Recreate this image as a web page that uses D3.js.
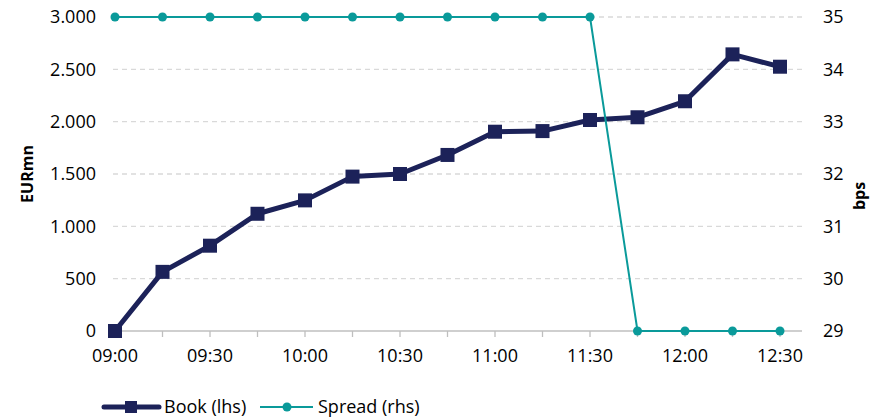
<!DOCTYPE html>
<html><head><meta charset="utf-8">
<script src="https://cdn.jsdelivr.net/npm/d3@7"></script>
<style>body{margin:0;background:#fff}svg{display:block;font-family:"Open Sans",sans-serif}</style>
</head><body><div id="c"></div>
<script>
const times = ["09:00","09:15","09:30","09:45","10:00","10:15","10:30","10:45","11:00","11:15","11:30","11:45","12:00","12:15","12:30"];
const book = [0,565,815,1120,1248,1475,1500,1682,1904,1910,2016,2042,2195,2643,2525];
const spread = [35,35,35,35,35,35,35,35,35,35,35,29,29,29,29];
const leftTicks = [0,500,1000,1500,2000,2500,3000];
const rightTicks = [29,30,31,32,33,34,35];
const xLabels = ["09:00","09:30","10:00","10:30","11:00","11:30","12:00","12:30"];

const W=871,H=419;
const svg=d3.select("#c").append("svg").attr("width",W).attr("height",H);
const x=d3.scalePoint().domain(times).range([115,780]);
const yL=d3.scaleLinear().domain([0,3000]).range([331,17]);
const yR=d3.scaleLinear().domain([29,35]).range([331,17]);
const plotL=113, plotR=802;
const navy="#1c2259", teal="#0a9a9a";
const fs=18;

// grid
svg.append("g").selectAll("line").data(leftTicks.filter(d=>d>0)).join("line")
 .attr("x1",plotL).attr("x2",plotR).attr("y1",d=>yL(d)).attr("y2",d=>yL(d))
 .attr("stroke","#d9d9d9").attr("stroke-width",1.3).attr("stroke-dasharray","5,4");
// baseline
svg.append("line").attr("x1",plotL).attr("x2",plotR).attr("y1",yL(0)).attr("y2",yL(0)).attr("stroke","#bfbfbf").attr("stroke-width",1.3);
// x ticks
svg.append("g").selectAll("line").data(times).join("line")
 .attr("x1",d=>x(d)).attr("x2",d=>x(d)).attr("y1",yL(0)).attr("y2",yL(0)+6).attr("stroke","#bfbfbf").attr("stroke-width",1.3);
svg.append("g").selectAll("text").data(xLabels).join("text")
 .attr("x",d=>x(d)).attr("y",yL(0)+31).attr("text-anchor","middle").attr("font-size",fs).attr("fill","#000").text(d=>d);
// left labels
svg.append("g").selectAll("text").data(leftTicks).join("text")
 .attr("x",96).attr("y",d=>yL(d)).attr("dy","0.35em").attr("text-anchor","end").attr("font-size",fs).attr("fill","#000")
 .text(d=>d3.format(",")(d).replace(/,/g,"."));
// right labels
svg.append("g").selectAll("text").data(rightTicks).join("text")
 .attr("x",823).attr("y",d=>yR(d)).attr("dy","0.35em").attr("text-anchor","start").attr("font-size",fs).attr("fill","#000").text(d=>d);
// axis titles
svg.append("text").attr("transform",`translate(33,${(17+331)/2}) rotate(-90)`).attr("text-anchor","middle")
 .attr("font-size",16).attr("font-weight","bold").text("EURmn");
svg.append("text").attr("transform",`translate(865,${(17+331)/2+22}) rotate(-90)`).attr("text-anchor","middle")
 .attr("font-size",16).attr("font-weight","bold").text("bps");

// book line
const lineB=d3.line().x((d,i)=>x(times[i])).y(d=>yL(d));
svg.append("path").datum(book).attr("d",lineB).attr("fill","none").attr("stroke",navy).attr("stroke-width",5).attr("stroke-linejoin","round");
svg.append("g").selectAll("rect").data(book).join("rect")
 .attr("x",(d,i)=>x(times[i])-7).attr("y",d=>yL(d)-7).attr("width",14).attr("height",14).attr("fill",navy);
// spread line
const lineS=d3.line().x((d,i)=>x(times[i])).y(d=>yR(d));
svg.append("path").datum(spread).attr("d",lineS).attr("fill","none").attr("stroke",teal).attr("stroke-width",2);
svg.append("g").selectAll("circle").data(spread).join("circle")
 .attr("cx",(d,i)=>x(times[i])).attr("cy",d=>yR(d)).attr("r",4.5).attr("fill",teal);

// legend
const ly=407;
svg.append("line").attr("x1",104).attr("x2",159).attr("y1",ly).attr("y2",ly).attr("stroke",navy).attr("stroke-width",5).attr("stroke-linecap","round");
svg.append("rect").attr("x",131-6).attr("y",ly-6).attr("width",12).attr("height",12).attr("fill",navy);
svg.append("text").attr("x",164).attr("y",ly).attr("dy","0.35em").attr("font-size",fs).text("Book (lhs)");
svg.append("line").attr("x1",260).attr("x2",313).attr("y1",ly).attr("y2",ly).attr("stroke",teal).attr("stroke-width",2);
svg.append("circle").attr("cx",287).attr("cy",ly).attr("r",4.5).attr("fill",teal);
svg.append("text").attr("x",318).attr("y",ly).attr("dy","0.35em").attr("font-size",fs).text("Spread (rhs)");
</script></body></html>
